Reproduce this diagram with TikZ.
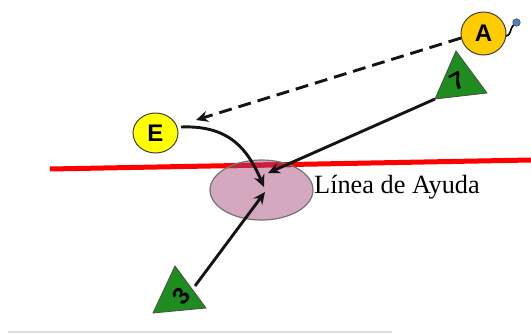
\documentclass[tikz,border=0pt]{standalone}
\usepackage{fontspec}
\setmainfont{Liberation Serif}
\newfontfamily\lettfont{Liberation Sans}
\usetikzlibrary{arrows.meta,shapes.geometric}
\definecolor{helppink}{HTML}{D4A9BF}
\definecolor{helpred}{HTML}{FF0000}
\definecolor{darkred}{HTML}{CC1E3C}
\definecolor{goldA}{HTML}{FFCC00}
\definecolor{yellE}{HTML}{FFFF00}
\definecolor{trigreen}{HTML}{1E8C1E}
\definecolor{dotblue}{HTML}{4A80C4}
\definecolor{lineblack}{HTML}{141414}
\tikzset{
  player/.style={draw=black!75, line width=1pt, inner sep=0pt},
  letter/.style={font=\lettfont\bfseries\fontsize{24}{24}\selectfont},
  digit/.style={font=\lettfont\bfseries\fontsize{24}{24}\selectfont, inner sep=0pt},
  tri/.style={fill=trigreen, draw=black!70, line width=0.8pt},
  move/.style={draw=lineblack, line width=2.9pt, -{Stealth[length=12pt,width=11pt]}},
  pass/.style={move, dash pattern=on 13pt off 7pt},
}
\begin{document}
\begin{tikzpicture}[x=1pt,y=-1pt]
\useasboundingbox (0,0) rectangle (531,333);
% bottom faint rule
\draw[black!13, line width=1.5pt] (8,332) -- (392,332);
% help ellipse
\node[ellipse, minimum width=103, minimum height=60, fill=helppink, inner sep=0pt] (help) at (261.5,190) {};
% red help line
\coordinate (r1) at (50,169);
\coordinate (r2) at (531,160);
\draw[helpred, line width=5pt] (r1) -- (r2);
\begin{scope}
  \clip (261.5,190) ellipse [x radius=51.5, y radius=30];
  \draw[darkred, line width=5pt] (r1) -- (r2);
\end{scope}
\draw[black!55, line width=1.2pt] (261.5,190) ellipse [x radius=51.5, y radius=30];
\node[anchor=base west, inner sep=0pt, font=\fontsize{26.3}{30}\selectfont] (lbl) at (314,193) {Línea de Ayuda};
% triangle 7
\coordinate (t7a) at (456,51);
\coordinate (t7b) at (435,99);
\coordinate (t7c) at (487,93);
\draw[tri] (t7a) -- (t7b) -- (t7c) -- cycle;
\node[digit, rotate=28] (d7) at (458,81) {7};
% triangle 3
\coordinate (t3a) at (175,266);
\coordinate (t3b) at (153,313);
\coordinate (t3c) at (206,308);
\draw[tri] (t3a) -- (t3b) -- (t3c) -- cycle;
\node[digit, rotate=50] (d3) at (181,296) {3};
% players
\node[player, ellipse, minimum width=45, minimum height=43, fill=goldA, letter] (A) at (483.5,33.5) {A};
\node[player, ellipse, minimum width=45, minimum height=40, fill=yellE, letter] (E) at (155.5,133) {E};
% blue dot on A
\node[circle, minimum size=7.5, inner sep=0pt, fill=dotblue, draw=black!70, line width=0.6pt] (dot) at (516.5,22.5) {};
\draw[black, line width=1.6pt] (506,36) .. controls (511,36) and (510,28) .. (dot);
% targets of the movements
\coordinate (tip7) at (268,173);
\coordinate (tipE) at (264,187);
\coordinate (tip3) at (265,192);
\coordinate (s3) at (195,286);
\coordinate (sE) at (181,127);
\coordinate (sA) at (461,38);
\coordinate (eA) at (196,120);
% movements
\draw[pass] (sA) -- (eA);
\draw[move] (t7b) -- (tip7);
\draw[move] (s3) -- (tip3);
\draw[move] (sE) .. controls (230,125) and (248,150) .. (tipE);
\end{tikzpicture}
\end{document}
